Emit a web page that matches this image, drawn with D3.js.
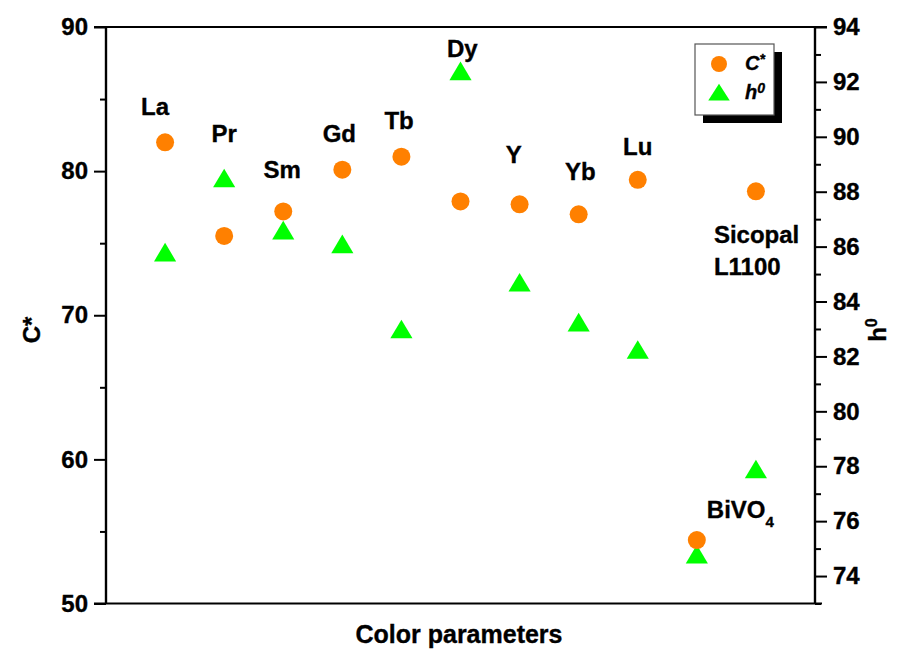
<!DOCTYPE html>
<html>
<head>
<meta charset="utf-8">
<script src="https://cdn.jsdelivr.net/npm/d3@7"></script>
<style>
  html, body { margin: 0; padding: 0; background: #fff; }
  svg { display: block; font-family: "Liberation Sans", Arial, sans-serif; }
  text { stroke: #000; stroke-width: 0.35px; }
</style>
</head>
<body>
<svg id="chart" width="900" height="653"></svg>
<script>
// ---- data ----
const categories = ["La", "Pr", "Sm", "Gd", "Tb", "Dy", "Y", "Yb", "Lu", "BiVO4", "Sicopal L1100"];
const cStar = [82.0, 75.5, 77.2, 80.1, 81.0, 77.9, 77.7, 77.0, 79.4, 54.4, 78.6];
const hue   = [85.8, 88.5, 86.6, 86.1, 83.0, 92.4, 84.7, 83.25, 82.25, 74.8, 77.9];
// label anchor positions in data units (x in category index units, y in C* units)
const labelX = [0.83, 2.0, 2.98, 3.95, 4.96, 6.03, 6.9, 8.03, 9.0, 10.0, 11.0];
const labelY = [83.9, 82.0, 79.5, 82.0, 82.9, 87.95, 80.55, 79.4, 81.1, 55.9, 75.0];
const leftTicks = [50, 60, 70, 80, 90];
const leftMinor = [55, 65, 75, 85];
const rightTicks = [74, 76, 78, 80, 82, 84, 86, 88, 90, 92, 94];
const rightMinor = [73, 75, 77, 79, 81, 83, 85, 87, 89, 91, 93];

// ---- layout ----
const L = 106, R = 815, T = 27, B = 603.5;
const svg = d3.select("#chart");
const x = d3.scaleLinear().domain([0, 12]).range([L, R]);
const yL = d3.scaleLinear().domain([50, 90]).range([B, T]);
const yR = d3.scaleLinear().domain([73, 94]).range([B, T]);

const orange = "#FF8000", green = "#00FF00";

// frame lines top / bottom
svg.append("line").attr("x1", 94).attr("x2", 827).attr("y1", T).attr("y2", T)
  .attr("stroke", "#000").attr("stroke-width", 2);
svg.append("line").attr("x1", 94).attr("x2", 822).attr("y1", B).attr("y2", B)
  .attr("stroke", "#000").attr("stroke-width", 2);

// left axis
const gL = svg.append("g").attr("transform", `translate(${L},0)`);
gL.call(d3.axisLeft(yL).tickValues(leftTicks).tickSize(12).tickPadding(6).tickFormat(d3.format("d")));
gL.append("g").call(d3.axisLeft(yL).tickValues(leftMinor).tickSize(6).tickFormat(""));
// right axis
const gR = svg.append("g").attr("transform", `translate(${R},0)`);
gR.call(d3.axisRight(yR).tickValues(rightTicks).tickSize(12).tickPadding(6).tickFormat(d3.format("d")));
gR.append("g").call(d3.axisRight(yR).tickValues(rightMinor).tickSize(6).tickFormat(""));

svg.selectAll(".domain").attr("stroke", "#000").attr("stroke-width", 2.2).attr("d", `M0,${T}V${B}`);
svg.selectAll(".tick line").attr("stroke", "#000").attr("stroke-width", 2);
svg.selectAll(".tick text").attr("font-size", 24).attr("font-weight", "bold")
  .attr("font-family", "'Liberation Sans', Arial, sans-serif").attr("fill", "#000");

// axis titles
svg.append("text").attr("transform", "translate(40,330) rotate(-90)")
  .attr("text-anchor", "middle").attr("font-size", 24).attr("font-weight", "bold").text("C*");
const hT = svg.append("text").attr("transform", "translate(886,330) rotate(-90)")
  .attr("text-anchor", "middle").attr("font-size", 24).attr("font-weight", "bold");
hT.append("tspan").text("h");
hT.append("tspan").attr("dy", -9).attr("font-size", 16).text("0");
svg.append("text").attr("x", 459).attr("y", 643).attr("text-anchor", "middle")
  .attr("font-size", 25).attr("font-weight", "bold").text("Color parameters");

// triangles (h0) — symbol centroid shifted so the bounding box is centred on the value
const tri = d3.symbol().type(d3.symbolTriangle).size(200);
svg.append("g").selectAll("path").data(hue).join("path")
  .attr("d", tri)
  .attr("transform", (d, i) => `translate(${x(i + 1)},${yR(d) + 3.1}) scale(1.03,1)`)
  .attr("fill", green);

// circles (C*)
svg.append("g").selectAll("circle").data(cStar).join("circle")
  .attr("cx", (d, i) => x(i + 1)).attr("cy", d => yL(d)).attr("r", 9)
  .attr("fill", orange);

// point labels
categories.forEach((c, i) => {
  const t = svg.append("text").attr("font-size", 24).attr("font-weight", "bold").attr("fill", "#000");
  if (c === "BiVO4") {
    t.attr("x", x(labelX[i]) + 10).attr("y", yL(labelY[i])).attr("text-anchor", "start");
    t.append("tspan").text("BiVO");
    t.append("tspan").attr("dy", 9).attr("font-size", 15).text("4");
  } else if (c === "Sicopal L1100") {
    t.attr("x", x(labelX[i]) - 42).attr("y", yL(labelY[i])).attr("text-anchor", "start");
    t.append("tspan").text("Sicopal");
    t.append("tspan").attr("x", x(labelX[i]) - 42).attr("dy", 31.7).text("L1100");
  } else {
    t.attr("x", x(labelX[i])).attr("y", yL(labelY[i])).attr("text-anchor", "middle").text(c);
  }
});

// legend
const lg = svg.append("g");
lg.append("rect").attr("x", 703).attr("y", 52).attr("width", 79).attr("height", 71).attr("fill", "#000");
lg.append("rect").attr("x", 695).attr("y", 44).attr("width", 79).attr("height", 71)
  .attr("fill", "#fff").attr("stroke", "#555").attr("stroke-width", 1.2);
lg.append("circle").attr("cx", 719).attr("cy", 64).attr("r", 8).attr("fill", orange);
lg.append("path").attr("d", tri).attr("transform", "translate(719,95) scale(1.0,0.9)").attr("fill", green);
const lt1 = lg.append("text").attr("x", 745).attr("y", 70).attr("font-size", 20)
  .attr("font-weight", "bold").attr("font-style", "italic");
lt1.append("tspan").text("C");
lt1.append("tspan").attr("dy", -6).attr("font-size", 14).text("*");
const lt2 = lg.append("text").attr("x", 745).attr("y", 99).attr("font-size", 20)
  .attr("font-weight", "bold").attr("font-style", "italic");
lt2.append("tspan").text("h");
lt2.append("tspan").attr("dy", -6).attr("font-size", 14).text("0");
</script>
</body>
</html>
